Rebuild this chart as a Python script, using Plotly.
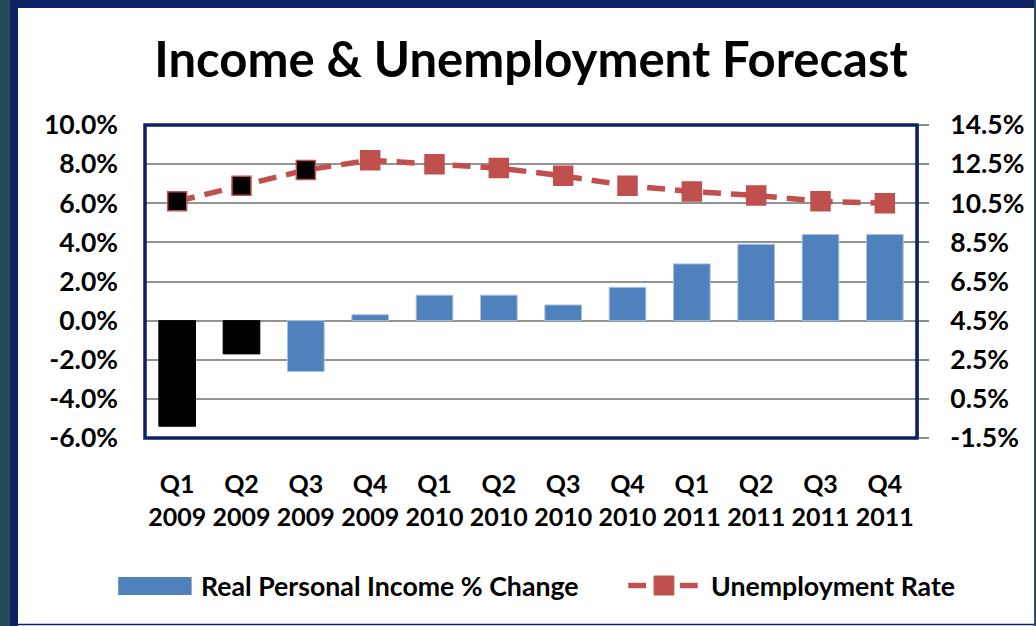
import plotly.graph_objects as go

# ---- data -------------------------------------------------------------
quarters = ["Q1", "Q2", "Q3", "Q4", "Q1", "Q2", "Q3", "Q4", "Q1", "Q2", "Q3", "Q4"]
years = ["2009", "2009", "2009", "2009", "2010", "2010", "2010", "2010",
         "2011", "2011", "2011", "2011"]
income_change = [-5.4, -1.7, -2.6, 0.3, 1.3, 1.3, 0.8, 1.7, 2.9, 3.9, 4.4, 4.4]
unemployment_rate = [10.6, 11.4, 12.2, 12.7, 12.5, 12.3, 11.9, 11.4, 11.1, 10.9, 10.6, 10.5]
actual_income_points = 2   # leading quarters already reported
actual_rate_points = 3

left_ticks = [-6, -4, -2, 0, 2, 4, 6, 8, 10]
right_ticks = [-1.5, 0.5, 2.5, 4.5, 6.5, 8.5, 10.5, 12.5, 14.5]

# ---- styling ----------------------------------------------------------
W, H = 1036, 626
PL, PR, PT, PB = 145, 923, 125, 438   # plot area in pixels
BLUE = "#4F81BD"
RED = "#C0504D"
NAVY = "#0A2163"
TEAL = "#264A58"
GRID = "#939393"
FONT = "Lato"


def px(x):
    return (x - PL) / (PR - PL)


def py(y):
    return (PB - y) / (PB - PT)


categories = [f"{q}<br>{y}" for q, y in zip(quarters, years)]
bar_colors = ["#000000" if i < actual_income_points else BLUE
              for i in range(len(income_change))]
bar_lines = ["#000000" if i < actual_income_points else "#A9C0DE"
             for i in range(len(income_change))]
marker_fill = ["#000000" if i < actual_rate_points else RED
               for i in range(len(unemployment_rate))]

fig = go.Figure()
fig.add_trace(go.Bar(
    x=categories, y=income_change, name="Real Personal Income % Change",
    marker=dict(color=bar_colors, line=dict(color=bar_lines, width=1)),
    yaxis="y",
))
fig.add_trace(go.Scatter(
    x=categories, y=unemployment_rate, name="Unemployment Rate",
    mode="lines+markers", yaxis="y2",
    line=dict(color=RED, width=5.5, dash="18px,10px"),
    marker=dict(symbol="square", size=19, color=marker_fill,
                line=dict(color=RED, width=1.5)),
))

tick_font = dict(family=FONT, size=26.5, color="#000000", weight="bold")
cat_font = dict(family=FONT, size=25, color="#000000", weight="bold")

fig.update_layout(
    width=W, height=H,
    margin=dict(l=PL, r=W - PR, t=PT, b=H - PB, pad=0),
    paper_bgcolor=TEAL,
    plot_bgcolor="rgba(0,0,0,0)",
    showlegend=False,
    bargap=0.43,
    title=dict(text="Income & Unemployment Forecast", x=px(534), xref="paper",
               xanchor="center", y=1 - 60 / H, yref="container", yanchor="middle",
               font=dict(family=FONT, size=49, color="#000000", weight="bold")),
    xaxis=dict(range=[-0.5, 11.5], showgrid=False, zeroline=False, showline=False,
               ticks="", ticklabelstandoff=29, tickfont=cat_font),
    yaxis=dict(range=[-6, 10], tickvals=left_ticks,
               ticktext=[f"{v:.1f}%" for v in left_ticks],
               showgrid=True, gridcolor=GRID, gridwidth=2, zeroline=False,
               showline=False, ticks="", ticklabelstandoff=26, tickfont=tick_font),
    yaxis2=dict(range=[-1.5, 14.5], tickvals=right_ticks,
                ticktext=[f"{v:.1f}%" for v in right_ticks],
                overlaying="y", side="right", showgrid=False, zeroline=False,
                showline=True, linecolor="#8C8C8C", linewidth=2,
                ticks="outside", ticklen=10, tickcolor="#8C8C8C", tickwidth=2,
                ticklabelstandoff=16, tickfont=tick_font),
)

shapes = [
    # slide frame
    dict(type="rect", xref="paper", yref="paper", layer="below",
         x0=px(9), x1=px(W + 5), y0=py(-5), y1=py(H + 5),
         fillcolor=NAVY, line=dict(width=0)),
    dict(type="rect", xref="paper", yref="paper", layer="below",
         x0=px(17), x1=px(W + 5), y0=py(8), y1=py(H + 5),
         fillcolor="#FFFFFF", line=dict(width=0)),
    dict(type="line", xref="paper", yref="paper", layer="below",
         x0=px(17), x1=px(W + 5), y0=py(624.5), y1=py(624.5),
         line=dict(color=NAVY, width=1.5)),
    # plot-area border
    dict(type="rect", xref="paper", yref="paper", layer="above",
         x0=0, x1=1, y0=0, y1=1, line=dict(color=NAVY, width=3.5)),
    # legend keys
    dict(type="rect", xref="paper", yref="paper",
         x0=px(118), x1=px(192), y0=py(595), y1=py(577),
         fillcolor=BLUE, line=dict(width=0)),
    dict(type="line", xref="paper", yref="paper",
         x0=px(632), x1=px(650), y0=py(585.5), y1=py(585.5),
         line=dict(color=RED, width=5.5)),
    dict(type="line", xref="paper", yref="paper",
         x0=px(684), x1=px(702), y0=py(585.5), y1=py(585.5),
         line=dict(color=RED, width=5.5)),
    dict(type="rect", xref="paper", yref="paper",
         x0=px(658), x1=px(678), y0=py(595), y1=py(576),
         fillcolor=RED, line=dict(color=RED, width=1)),
]
fig.update_layout(shapes=shapes)

legend_font = dict(family=FONT, size=26.7, color="#000000", weight="bold")
fig.add_annotation(text="Real Personal Income % Change", xref="paper", yref="paper",
                   x=px(199), y=py(586), xanchor="left", yanchor="middle",
                   showarrow=False, font=legend_font)
fig.add_annotation(text="Unemployment Rate", xref="paper", yref="paper",
                   x=px(713), y=py(586), xanchor="left", yanchor="middle",
                   showarrow=False, font=legend_font)

fig.write_html("out.html")
